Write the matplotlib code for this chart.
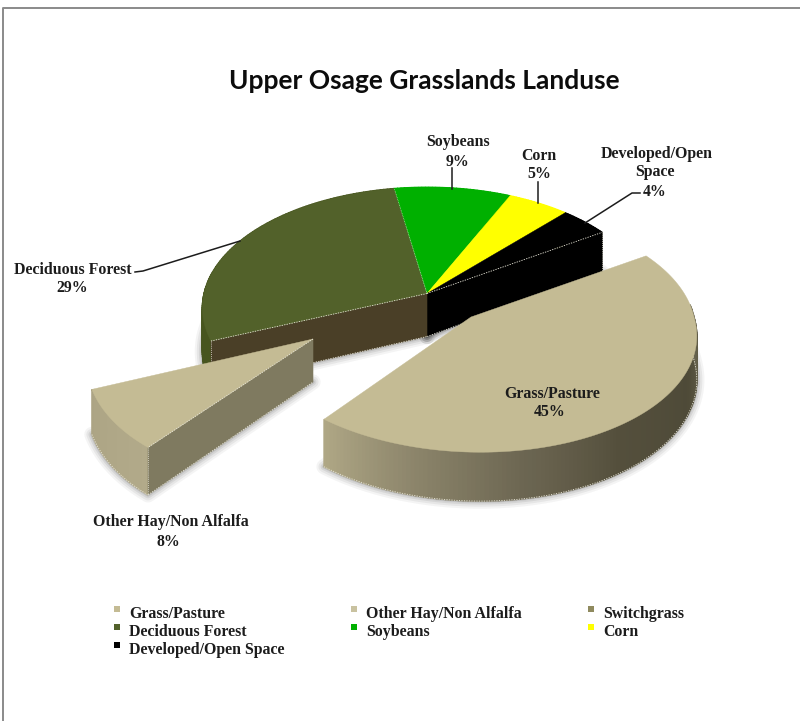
import matplotlib
matplotlib.use('Agg')
import matplotlib.pyplot as plt
from matplotlib.patches import Polygon, Rectangle
import numpy as np

# data
categories = ['Grass/Pasture', 'Other Hay/Non Alfalfa', 'Switchgrass', 'Deciduous Forest',
              'Soybeans', 'Corn', 'Developed/Open Space']
values = [45, 8, 0, 28.6, 9.4, 5, 4]
colors = ['#c4bb94', '#c4bb94', '#8f8a5e', '#52612a', '#00b000', '#ffff00', '#000000']
legend_colors = ['#c4bb94', '#c9c2a0', '#8f8a5e', '#52612a', '#00b000', '#ffff00', '#000000']
side_colors = ['#c4bb94', '#7f7a60', '#8f8a5e', '#4a3f27', '#00b000', '#ffff00', '#000000']
title = 'Upper Osage Grasslands Landuse'

# pie geometry, in pixels
start_angle = 33.2
center = (427, 293.5)
explode = [(44, 23.5), (-114, 45.5), (0, 0), (0, 0), (0, 0), (0, 0), (0, 0)]
shear = [0.07, -0.10, 0, 0, 0, 0, 0]
stretch = [1.0, 1.06, 1, 1, 1, 1, 1]
rx, ry, persp, depth = 223.0, 119.0, 0.12, 43.0
serif = 'Liberation Serif'
txt = '#1c1c1c'
dot = '#e8e6d8'


def project(theta, r=1.0, i=2, down=0.0):
    t = np.radians(theta)
    X, Y = r * np.cos(t), r * np.sin(t)
    f = 1 / (1 + persp * Y)
    dx, dy = rx * X * f, -ry * Y * f * stretch[i]
    # exploded slices lean away from the vanishing point as they come forward
    return (center[0] + explode[i][0] + dx + shear[i] * max(dy, 0),
            center[1] + explode[i][1] + dy + down * f)


def rim_color(i, theta):
    # grass and hay sides darken towards the right, like the excel bevel
    if i == 0:
        a = [-128.8, -105, -80, -55, -25, 0, 33]
        c = [[176, 168, 134], [140, 133, 107], [108, 102, 82], [84, 79, 60], [78, 74, 56], [104, 99, 78], [104, 99, 78]]
    elif i == 1:
        a = [-157.6, -128.8]
        c = [[172, 164, 132], [178, 170, 138]]
    elif i == 3:
        return '#47551f'
    else:
        return colors[i]
    rgb = [np.interp(theta, a, [p[k] for p in c]) / 255 for k in range(3)]
    return tuple(rgb)


def dotted(ax, pts, z, lw=0.6):
    xs, ys = zip(*pts)
    ax.plot(xs, ys, color=dot, lw=lw, ls=(0, (1.5, 1.5)), zorder=z)


fig = plt.figure(figsize=(8, 7.21), dpi=100, facecolor='white')
ax = fig.add_axes([0, 0, 1, 1])
ax.set_xlim(0, 800)
ax.set_ylim(721, 0)
ax.axis('off')

# outer frame
ax.plot([2.5, 2.5, 800], [721, 7.5, 7.5], color='#8a8a8a', lw=1.4, solid_capstyle='butt')

# slice angles, clockwise from start_angle
edges = start_angle - np.cumsum([0] + values) * 360 / sum(values)

groups = [[3, 4, 5, 6], [1], [0]]  # back to front
for g, group in enumerate(groups):
    z = 10 * (g + 1)

    # soft shadow
    for i in group:
        th = np.linspace(edges[i + 1], edges[i], 80)
        low = [project(a, 1, i, depth) for a in th] + [project(0, 0, i, depth)]
        for lw, al in [(11, 0.05), (8, 0.07), (5, 0.09), (2.5, 0.12)]:
            ax.add_patch(Polygon(low, closed=True, fill=False, ec='#303030', lw=lw, alpha=al,
                                 joinstyle='round', zorder=z))

    # outer rim as thin quads, the back part stays hidden behind the top
    for i in group:
        a0, a1 = edges[i + 1], edges[i]
        if i == 0:
            a1 = 6
        th = np.linspace(a0, a1, int(a1 - a0) + 2)
        for p, q in zip(th[:-1], th[1:]):
            quad = [project(p, 1, i), project(q, 1, i),
                    project(q, 1, i, depth), project(p, 1, i, depth)]
            col = rim_color(i, (p + q) / 2)
            ax.add_patch(Polygon(quad, closed=True, fc=col, ec=col, lw=1.0, zorder=z + 1))
        if i in (0, 1):
            vis = np.linspace(a0, a1, 100)
            dotted(ax, [project(a, 1, i, depth) for a in vis], z + 2)

    # cut faces that look to the viewer, only on the outside of a group
    lo = group[-1]
    hi = group[0]
    for i, ang, sign in ((lo, edges[lo + 1], -1), (hi, edges[hi], 1)):
        if np.sin(np.radians(ang + sign * 90)) < 0:
            quad = [project(0, 0, i), project(ang, 1, i),
                    project(ang, 1, i, depth), project(0, 0, i, depth)]
            ax.add_patch(Polygon(quad, closed=True, fc=side_colors[i], ec=side_colors[i],
                                 lw=0.4, zorder=z + 3))
            dotted(ax, [quad[2], quad[3]], z + 4)
            dotted(ax, [quad[1], quad[2]], z + 4, 0.5)
            dotted(ax, [quad[0], quad[1]], z + 6)

    # top faces
    for i in group:
        a0, a1 = edges[i + 1], edges[i]
        th = np.linspace(a0, a1, 120)
        top = [project(0, 0, i)] + [project(a, 1, i) for a in th]
        ax.add_patch(Polygon(top, closed=True, fc=colors[i], ec=colors[i], lw=0.3, zorder=z + 5))
    if g == 0:
        dotted(ax, [project(0, 0, 3), project(edges[4], 1, 3)], z + 6, 0.4)

# leader lines
leaders = [([135, 143, 240], [272, 271, 241]),
           ([452, 452], [168, 189]),
           ([538, 538], [182, 203]),
           ([640, 632, 585], [193, 193, 223])]
for xs, ys in leaders:
    ax.plot(xs, ys, color='#1c1c1c', lw=1.1, zorder=50)

# data labels
labels = [('Grass/Pasture', 552, 393), ('45%', 550, 412),
          ('Other Hay/Non Alfalfa', 171, 522), ('8%', 168, 541),
          ('Deciduous Forest', 73, 269), ('29%', 72, 288),
          ('Soybeans', 458, 142), ('9%', 458, 161),
          ('Corn', 539, 155), ('5%', 539, 173),
          ('Developed/Open', 657, 153), ('Space', 655, 172), ('4%', 655, 191)]
for s, x, y in labels:
    ax.text(x, y + 4.5, s, ha='center', va='baseline', family=serif, weight='bold', fontsize=11.4,
            color=txt, zorder=60)

# legend
leg_x = [117, 354, 591]
leg_y = [609, 627, 645]
for n, (name, col) in enumerate(zip(categories, legend_colors)):
    row, c = divmod(n, 3)
    ax.add_patch(Rectangle((leg_x[c] - 3, leg_y[row] - 3), 6, 6, fc=col, ec='none', zorder=60))
    ax.text(leg_x[c] + 12, leg_y[row] + 8.5, name, ha='left', va='baseline', family=serif,
            weight='bold', fontsize=11.4, color=txt, zorder=60)

ax.text(424, 81, title, ha='center', va='center', family='Lato', weight='bold', fontsize=19,
        color='#0c0c0c')

fig.savefig('out.png', dpi=100)
